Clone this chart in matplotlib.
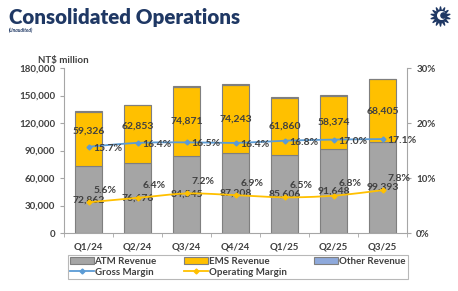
import matplotlib.pyplot as plt
import numpy as np
from matplotlib.ticker import FuncFormatter

quarters = ["Q1/24", "Q2/24", "Q3/24", "Q4/24", "Q1/25", "Q2/25", "Q3/25"]
atm = [72862, 76676, 84545, 87208, 85606, 91648, 99393]
ems = [59326, 62853, 74871, 74243, 61860, 58374, 68405]
other = [700, 650, 700, 700, 700, 700, 700]
gross_margin = [15.7, 16.4, 16.5, 16.4, 16.8, 17.0, 17.1]
op_margin = [5.6, 6.4, 7.2, 6.9, 6.5, 6.8, 7.8]

navy = "#1F3864"
txt = "#404040"
plt.rcParams['font.family'] = ['Lato', 'DejaVu Sans']

fig = plt.figure(figsize=(4.58, 2.91), dpi=100)
fig.text(0.02, 0.917, "Consolidated Operations", fontsize=14.8, fontweight='heavy', color=navy)
fig.text(0.02, 0.89, "(Unaudited)", fontsize=3.5, style='italic', fontweight='bold', color=navy)
fig.text(0.083, 0.783, "NT$ million", fontsize=7, fontweight='bold', color=txt)

# logo
lax = fig.add_axes([0.925, 0.9, 0.07, 0.09])
lax.scatter([0], [0], s=190, marker=(14, 1, 0), color=navy)
lax.scatter([0.1], [0.05], s=30, marker='o', color='white')
lax.scatter([0.18], [0.1], s=14, marker='o', color=navy)
lax.set_xlim(-1, 1)
lax.set_ylim(-1, 1)
lax.axis('off')

ax = fig.add_axes([0.140, 0.199, 0.749, 0.567])
x = np.arange(len(quarters))
w = 0.55
bottom2 = np.array(atm) + np.array(ems)
ax.bar(x, atm, w, color="#A5A5A5", edgecolor="#7F7F7F", linewidth=0.8, label="ATM Revenue")
ax.bar(x, ems, w, bottom=atm, color="#FFC000", edgecolor="#7F7F7F", linewidth=0.8, label="EMS Revenue")
ax.bar(x, other, w, bottom=bottom2, color="#8EA9DB", edgecolor="#7F7F7F", linewidth=0.8, label="Other Revenue")

ems_shift = [8700, 8700, 0, 0, 0, 0, 0]
for i in range(len(x)):
    ax.text(x[i], atm[i] / 2, f"{atm[i]:,}", ha='center', va='center', fontsize=7.5,
            fontweight='bold', color=txt, zorder=5)
    ax.text(x[i], atm[i] + ems[i] / 2 + ems_shift[i], f"{ems[i]:,}", ha='center', va='center',
            fontsize=7.5, fontweight='bold', color=txt, zorder=5)

ax.set_ylim(0, 180000)
ax.set_yticks(np.arange(0, 180001, 30000))
ax.yaxis.set_major_formatter(FuncFormatter(lambda v, p: f"{int(v):,}"))
ax.set_xlim(-0.5, 6.5)
ax.set_xticks(x)
ax.set_xticklabels(quarters)
ax.set_xticks(np.arange(-0.5, 7, 1), minor=True)
ax.tick_params(axis='x', which='major', length=0, pad=7, labelsize=7, labelcolor=txt)
ax.tick_params(axis='x', which='minor', length=3, color="#A6A6A6", direction='out')
ax.tick_params(axis='y', length=3, color="#A6A6A6", labelsize=7, labelcolor=txt)
for lab in ax.get_xticklabels() + ax.get_yticklabels():
    lab.set_fontweight('bold')
for s in ['top', 'right']:
    ax.spines[s].set_visible(False)
for s in ['left', 'bottom']:
    ax.spines[s].set_color("#A6A6A6")

ax2 = ax.twinx()
ax2.set_ylim(0, 30)
ax2.set_yticks([0, 10, 20, 30])
ax2.yaxis.set_major_formatter(FuncFormatter(lambda v, p: f"{int(v)}%"))
ax2.tick_params(axis='y', length=3, color="#A6A6A6", labelsize=7, labelcolor=txt)
for lab in ax2.get_yticklabels():
    lab.set_fontweight('bold')
for s in ['top', 'left', 'bottom']:
    ax2.spines[s].set_visible(False)
ax2.spines['right'].set_color("#A6A6A6")


def catmull(xp, yp, n=30):
    pts = np.column_stack([xp, yp])
    pts = np.vstack([pts[0], pts, pts[-1]])
    out = []
    for k in range(1, len(pts) - 2):
        p0, p1, p2, p3 = pts[k - 1], pts[k], pts[k + 1], pts[k + 2]
        for t in np.linspace(0, 1, n, endpoint=False):
            t2, t3 = t * t, t * t * t
            out.append(0.5 * ((2 * p1) + (-p0 + p2) * t + (2 * p0 - 5 * p1 + 4 * p2 - p3) * t2
                              + (-p0 + 3 * p1 - 3 * p2 + p3) * t3))
    out.append(pts[-2])
    out = np.array(out)
    return out[:, 0], out[:, 1]


gx, gy = catmull(x, gross_margin)
ox, oy = catmull(x, op_margin)
ax2.plot(gx, gy, color="#5B9BD5", lw=1.3, zorder=4)
ax2.plot(x, gross_margin, ls='none', marker='D', ms=2.5, color="#5B9BD5", zorder=4)
ax2.plot(ox, oy, color="#FFC000", lw=1.3, zorder=4)
ax2.plot(x, op_margin, ls='none', marker='D', ms=2.5, color="#FFC000", zorder=4)
for i in range(len(x)):
    ax2.text(x[i] + 0.1, gross_margin[i] - 0.3, f"{gross_margin[i]:.1f}%", ha='left', va='center',
             fontsize=7.5, fontweight='bold', color=txt, zorder=6)
    ax2.text(x[i] + 0.33, op_margin[i] + 2.2, f"{op_margin[i]:.1f}%", ha='center', va='center',
             fontsize=7.5, fontweight='bold', color=txt, zorder=6)

h1, l1 = ax.get_legend_handles_labels()
h2 = [plt.Line2D([], [], color="#5B9BD5", marker='D', ms=2.5, lw=1.3),
      plt.Line2D([], [], color="#FFC000", marker='D', ms=2.5, lw=1.3)]
handles = [h1[0], h2[0], h1[1], h2[1], h1[2]]
labels = [l1[0], "Gross Margin", l1[1], "Operating Margin", l1[2]]
leg = fig.legend(handles, labels, ncol=3, loc='lower left', bbox_to_anchor=(0.148, 0.041, 0.742, 0.086),
                 mode='expand', borderaxespad=0, fontsize=7, frameon=True, fancybox=False,
                 edgecolor="#A6A6A6", handlelength=2.4, handletextpad=0.1, borderpad=0.25,
                 labelspacing=0.15, columnspacing=0.5)
leg.get_frame().set_linewidth(0.8)
for t in leg.get_texts():
    t.set_color(txt)
    t.set_fontweight('bold')

fig.savefig("out.png", dpi=100)
